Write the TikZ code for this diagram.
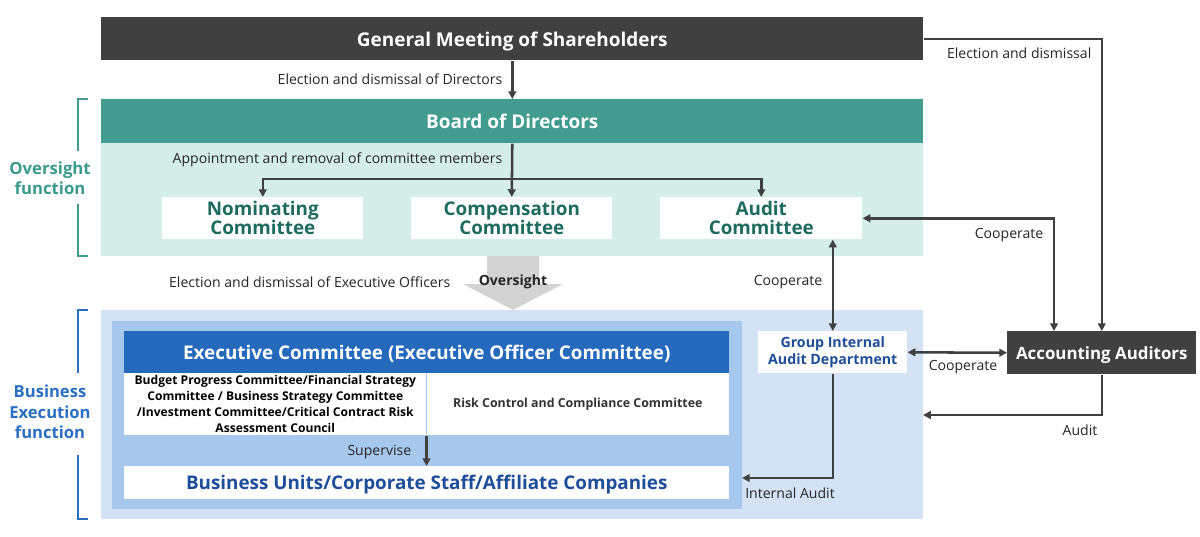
\documentclass[tikz,border=0pt]{standalone}
\usepackage{fontspec}
\setmainfont{Open Sans}
\usetikzlibrary{arrows.meta,calc}
\definecolor{dk}{HTML}{404040}
\definecolor{teal1}{HTML}{419B8F}
\definecolor{teal2}{HTML}{D6EEEA}
\definecolor{tealtxt}{HTML}{1D6B5E}
\definecolor{tealfn}{HTML}{3A9A8C}
\definecolor{blue1}{HTML}{D3E3F5}
\definecolor{blue2}{HTML}{A6C8EC}
\definecolor{bluehd}{HTML}{2569BD}
\definecolor{bluetxt}{HTML}{1E4E9A}
\definecolor{bluefn}{HTML}{2B6FC2}
\definecolor{grayar}{HTML}{D3D3D3}
\newcommand\myrect[7]{\node[#6, anchor=north west, inner sep=0pt, minimum width={(#4-#2)*0.025cm}, minimum height={(#5-#3)*0.025cm}] (#1) at (#2,#3) {#7};}
\begin{document}
\begin{tikzpicture}[x=0.025cm,y=-0.025cm,
  conn/.style={draw=dk, line width=1.8pt},
  arr/.style={conn, -{Triangle[length=5.5pt,width=5.5pt]}},
  arrb/.style={conn, {Triangle[length=5.5pt,width=5.5pt]}-{Triangle[length=5.5pt,width=5.5pt]}},
  lbl/.style={font=\fontsize{10}{12}\selectfont, text=black!85, inner sep=1pt},
  hdr/.style={font=\bfseries\fontsize{13.5}{15}\selectfont, text=white, text depth=0pt},
  cmt/.style={fill=white, font=\bfseries\fontsize{13.4}{13.6}\selectfont, text=tealtxt, align=center},
  fn/.style={font=\bfseries\fontsize{11.9}{14}\selectfont, align=center},
  brk/.style={line width=1.4pt}
]
\fill[white] (0,0) rectangle (1200,537);
% top
\myrect{gm}{101}{17}{923}{60}{fill=dk, hdr}{General Meeting of Shareholders}
\myrect{ovr}{101}{143}{923}{256}{fill=teal2}{}
\myrect{bod}{101}{99}{923}{143}{fill=teal1, hdr}{Board of Directors}
\myrect{nom}{162}{197}{363}{239}{cmt}{Nominating\\Committee}
\myrect{comp}{411}{197}{612}{239}{cmt}{Compensation\\Committee}
\myrect{aud}{660}{197}{862}{239}{cmt}{Audit\\Committee}
% oversight arrow
\fill[grayar] (487,256) -- (539,256) -- (539,284) -- (563,284) -- (513,310) -- (463,284) -- (487,284) -- cycle;
\node[font=\bfseries\fontsize{10}{12}\selectfont, text=black!85] (ovtxt) at (513,282) {Oversight};
% business execution
\myrect{bizout}{101}{310}{923}{519}{fill=blue1}{}
\myrect{bizin}{112}{321}{742}{509}{fill=blue2}{}
\myrect{exec}{124}{331}{729}{373}{fill=bluehd, font=\bfseries\fontsize{13.4}{15}\selectfont, text=white, text depth=0pt}{Executive Committee (Executive Officer Committee)}
\myrect{lbox}{124}{373}{426}{435}{fill=white, font=\bfseries\fontsize{8.6}{11.3}\selectfont, text=black, align=center}{Budget Progress Committee/Financial Strategy\\Committee / Business Strategy Committee\\/Investment Committee/Critical Contract Risk\\Assessment Council}
\myrect{rbox}{426}{373}{729}{435}{fill=white, font=\bfseries\fontsize{8.8}{11}\selectfont, text=black!80}{Risk Control and Compliance Committee}
\draw[blue2, line width=0.8pt] (lbox.north east) -- (lbox.south east);
\myrect{bu}{124}{466}{729}{499}{fill=white, font=\bfseries\fontsize{13.4}{15}\selectfont, text=bluetxt, text depth=0pt}{Business Units/Corporate Staff/Affiliate Companies}
\myrect{giad}{758}{331}{907}{373}{fill=white, font=\bfseries\fontsize{10.1}{12.2}\selectfont, text=bluetxt, align=center}{Group Internal\\Audit Department}
\myrect{aa}{1007}{331}{1196}{374}{fill=dk, font=\bfseries\fontsize{12}{14}\selectfont, text=white, text depth=0pt}{Accounting Auditors}
% side labels and brackets
\node[fn, text=tealfn] (ofn) at (50,178) {Oversight\\function};
\draw[brk, teal1] (78,151) -- (78,99) -- (88,99);
\draw[brk, teal1] (78,204) -- (78,256) -- (88,256);
\node[fn, text=bluefn, font=\bfseries\fontsize{11.8}{14.6}\selectfont] (bfn) at (50,412) {Business\\Execution\\function};
\draw[brk, bluefn] (78,373) -- (78,310) -- (88,310);
\draw[brk, bluefn] (78,455) -- (78,519) -- (88,519);
% connectors
\draw[arr] (gm.south) -- (bod.north);
\node[lbl, anchor=east] (l1) at (504,79) {Election and dismissal of Directors};
\coordinate (jn) at (513,179);
\draw[arr] (bod.south) -- (comp.north);
\draw[arr] (jn) -| (nom.north);
\draw[arr] (jn) -| (aud.north);
\node[lbl, anchor=east] (l2) at (504,160) {Appointment and removal of committee members};
\node[lbl, anchor=east] (l3) at (452,282) {Election and dismissal of Executive Officers};
\draw[arrb] (giad.north) -- (giad.north |- aud.south);
\node[lbl] (l4) at (788,282) {Cooperate};
\coordinate (aaL) at (1054,331);
\draw[arrb] (aud.east) -| (aaL);
\node[lbl, anchor=east] (l5) at (1045,235) {Cooperate};
\draw[arr] (gm.east) -| (aa.north);
\node[lbl, anchor=east] (l6) at (1093,53) {Election and dismissal};
\draw[arrb] (giad.east) -- (aa.west);
\node[lbl] (l7) at (963,367) {Cooperate};
\coordinate (audEnd) at (923,415);
\draw[arr] (aa.south) |- (audEnd);
\node[lbl] (l8) at (1080,430) {Audit};
\coordinate (iaEnd) at (742,478);
\draw[arr] (giad.south) |- (iaEnd);
\node[lbl] (l9) at (790,493) {Internal Audit};
\draw[arr] (lbox.south east) -- (lbox.south east |- bu.north);
\node[lbl, anchor=east] (l10) at (413,452) {Supervise};
\end{tikzpicture}
\end{document}
